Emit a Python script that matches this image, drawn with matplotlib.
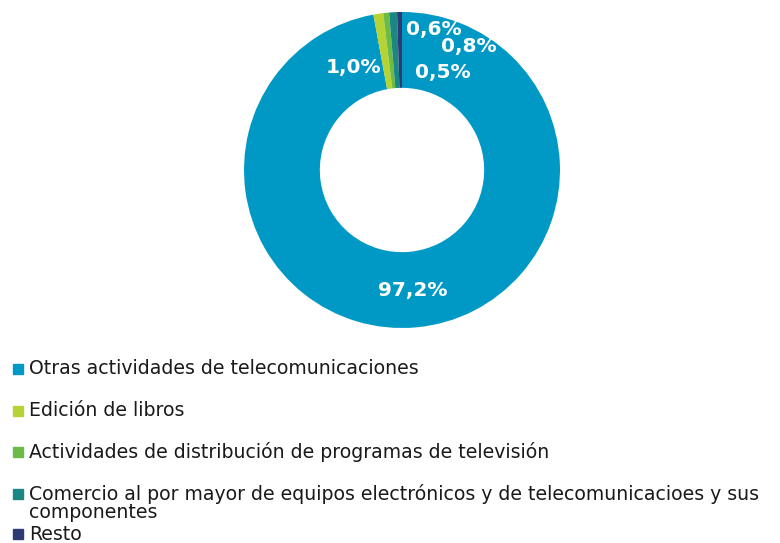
import matplotlib.pyplot as plt
from matplotlib.patches import Rectangle

categorias = [
    "Otras actividades de telecomunicaciones",
    "Edición de libros",
    "Actividades de distribución de programas de televisión",
    "Comercio al por mayor de equipos electrónicos y de telecomunicacioes y sus\ncomponentes",
    "Resto",
]
valores = [97.2, 1.0, 0.6, 0.8, 0.5]
colores = ["#0099c6", "#b5d334", "#6cbb45", "#1a8782", "#2e3a73"]

# posiciones de las etiquetas dentro del anillo
pos_etiquetas = [(0.07, -0.76), (-0.31, 0.65), (0.20, 0.89), (0.42, 0.78), (0.26, 0.62)]

W, H = 780, 543
fig = plt.figure(figsize=(W / 100, H / 100), dpi=100)
plt.rcParams["font.family"] = "DejaVu Sans"

cx, cy, r = 402, 170, 158
ax = fig.add_axes([(cx - r) / W, (H - cy - r) / H, 2 * r / W, 2 * r / H])
ax.pie(valores, colors=colores, startangle=90, counterclock=False, radius=1,
       wedgeprops=dict(width=0.48, edgecolor="none"))
ax.set_xlim(-1, 1)
ax.set_ylim(-1, 1)
ax.set_aspect("equal")
ax.axis("off")

for v, (x, y) in zip(valores, pos_etiquetas):
    ax.text(x, y, f"{v:.1f}%".replace(".", ","), color="white", fontsize=14.5,
            fontweight="bold", ha="center", va="center")

# leyenda
filas_y = [369, 411, 452, 494, 534]
for nombre, color, y in zip(categorias, colores, filas_y):
    fig.patches.append(Rectangle((13 / W, (H - y - 5) / H), 10 / W, 10 / H,
                                 transform=fig.transFigure, color=color))
    if "\n" in nombre:
        fig.text(29 / W, (H - y + 10) / H, nombre, fontsize=13.6, color="#1a1a1a",
                 va="top", linespacing=0.92)
    else:
        fig.text(29 / W, (H - y) / H, nombre, fontsize=13.6, color="#1a1a1a",
                 va="center")

fig.savefig("out.png", dpi=100)
